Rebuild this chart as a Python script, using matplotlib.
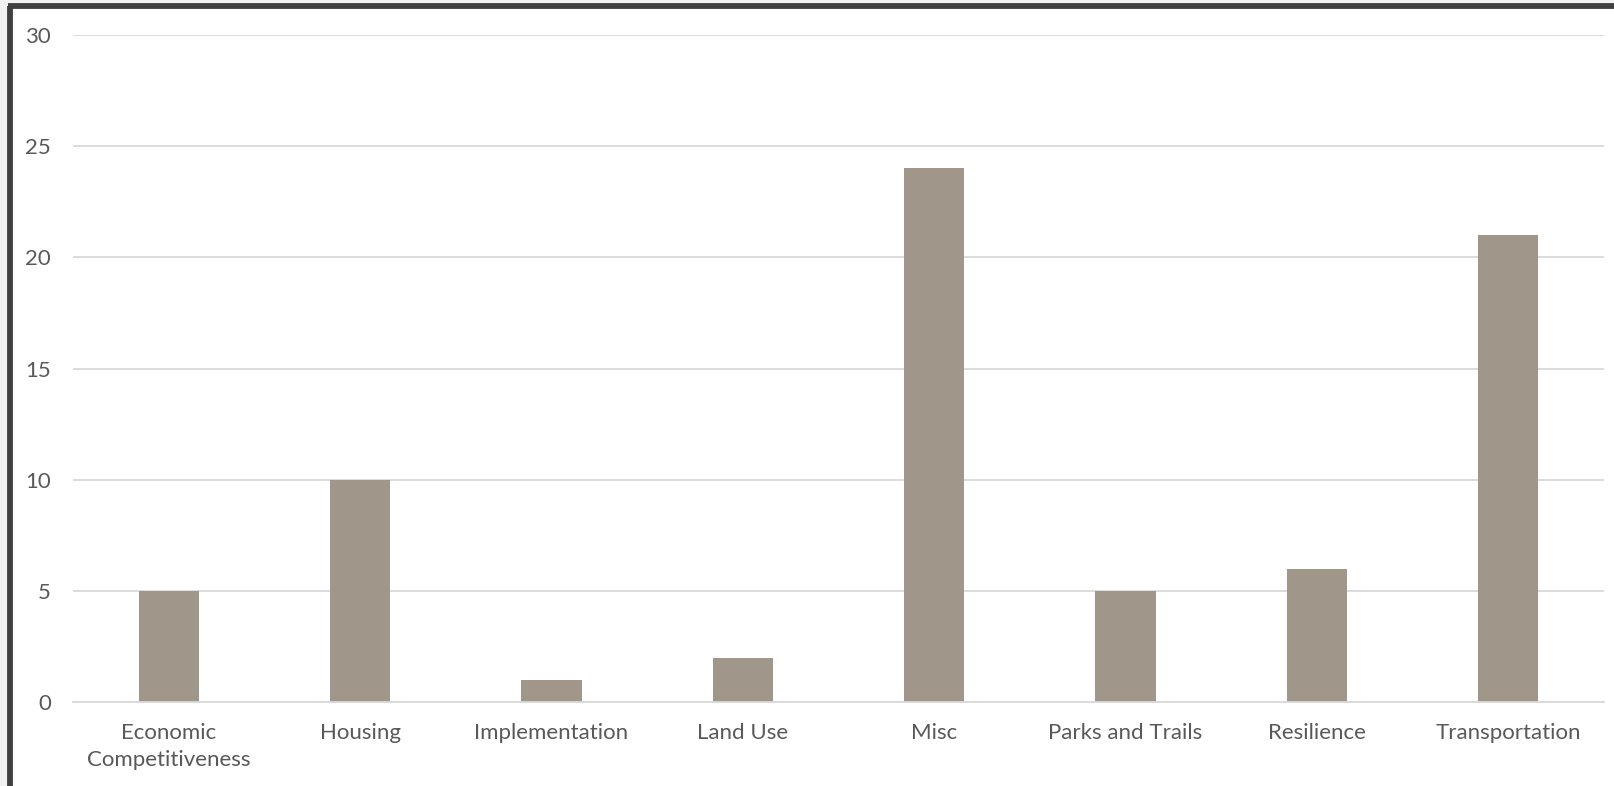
import matplotlib
matplotlib.use("Agg")
import matplotlib.pyplot as plt
from matplotlib.patches import Rectangle
from matplotlib.lines import Line2D

categories = ["Economic\nCompetitiveness", "Housing", "Implementation", "Land Use",
              "Misc", "Parks and Trails", "Resilience", "Transportation"]
values = [5, 10, 1, 2, 24, 5, 6, 21]
yticks = [0, 5, 10, 15, 20, 25, 30]

W, H = 1615, 786
plt.rcParams["font.family"] = ["Lato", "DejaVu Sans"]
fig = plt.figure(figsize=(W / 100, H / 100), dpi=100)
fig.patch.set_facecolor("#f1f1f1")

# white panel with dark left/top border
fig.patches.append(Rectangle((8 / W, 0), 1 - 8 / W, 1 - 3 / H, transform=fig.transFigure,
                             facecolor="white", edgecolor="none", zorder=-5))
fig.lines.append(Line2D([10.5 / W, 10.5 / W], [0, 1 - 6 / H], transform=fig.transFigure,
                        color="#404040", linewidth=4.2, solid_capstyle="butt", zorder=-4))
fig.lines.append(Line2D([8 / W, 1], [1 - 6 / H, 1 - 6 / H], transform=fig.transFigure,
                        color="#404040", linewidth=4.2, solid_capstyle="butt", zorder=-4))

left, right = 73 / W, 1604 / W
top_y, bot_y = 35, 702
ax = fig.add_axes([left, 1 - bot_y / H, right - left, (bot_y - top_y) / H])
ax.set_zorder(5)
ax.set_facecolor("none")

x = list(range(len(categories)))
ax.bar(x, values, width=0.315, color="#a0978a", linewidth=0, zorder=2)
ax.set_xlim(-0.5, len(categories) - 0.5)
ax.set_ylim(0, 30)
ax.set_yticks(yticks)
ax.set_yticklabels([str(v) for v in yticks])
ax.set_xticks(x)
ax.set_xticklabels(categories, linespacing=1.45)

ax.grid(axis="y", color="#d9d9d9", linewidth=1.3, zorder=0)
ax.set_axisbelow(True)
for s in ["top", "right", "left"]:
    ax.spines[s].set_visible(False)
ax.spines["bottom"].set_color("#d9d9d9")
ax.spines["bottom"].set_linewidth(1.3)
ax.tick_params(axis="both", length=0, colors="#595959", labelsize=16)
ax.tick_params(axis="y", pad=16)
ax.tick_params(axis="x", pad=15)

fig.savefig("out.png", dpi=100, facecolor=fig.get_facecolor())
